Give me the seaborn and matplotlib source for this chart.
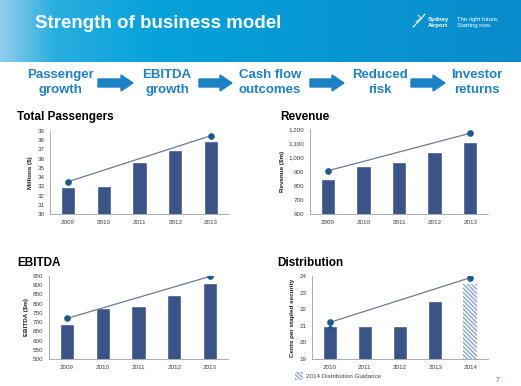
import numpy as np
import pandas as pd
import seaborn as sns
import matplotlib.pyplot as plt
from matplotlib.colors import LinearSegmentedColormap
from matplotlib.patches import Polygon, Rectangle
from matplotlib.ticker import StrMethodFormatter

# --- data ---
years = ["2009", "2010", "2011", "2012", "2013"]
dist_years = ["2010", "2011", "2012", "2013", "2014"]

passengers = [32.9, 33.0, 35.6, 36.9, 37.9]
revenue = [850, 940, 970, 1035, 1110]
ebitda = [690, 775, 790, 848, 910]
distribution = [21.0, 21.0, 21.0, 22.5, 23.5]

# trend lines (first year -> last year)
passengers_trend = [33.5, 38.5]
revenue_trend = [905, 1170]
ebitda_trend = [720, 948]
distribution_trend = [21.2, 23.9]
distribution_extra_dot = 20.85

flow_steps = ["Passenger\ngrowth", "EBITDA\ngrowth", "Cash flow\noutcomes", "Reduced\nrisk", "Investor\nreturns"]

BAR = "#3b5487"
LINE = "#6c7a94"
DOT = "#1c5a8c"
FLOW_BLUE = "#1f80c2"
TICK = "#404040"

sns.set_style("white")
plt.rcParams["font.family"] = ["Liberation Sans", "DejaVu Sans"]

W, H = 521, 386
fig = plt.figure(figsize=(W / 100, H / 100), dpi=100)

# background overlay in pixel coordinates
bg = fig.add_axes([0, 0, 1, 1])
bg.axis("off")

cmap = LinearSegmentedColormap.from_list(
    "hdr", [(0, "#8fcdec"), (0.1, "#2aaee0"), (0.3, "#05a2da"), (1, "#0a8bcb")])
grad = np.linspace(0, 1, 300).reshape(1, -1)
bg.imshow(grad, cmap=cmap, extent=[0, W, 62, 0], aspect="auto", zorder=0)
bg.set_xlim(0, W)
bg.set_ylim(H, 0)

bg.text(35, 24, "Strength of business model", color="white", fontsize=13.5,
        fontweight="bold", va="center", ha="left")
bg.text(428, 19.5, "Sydney", color="white", fontsize=4.3, fontweight="bold", va="center")
bg.text(428, 25.5, "Airport", color="white", fontsize=4.3, fontweight="bold", va="center")
bg.text(457, 19.5, "The right future.", color="white", fontsize=4.2, va="center")
bg.text(457, 25.5, "Starting now.", color="white", fontsize=4.2, va="center")
bg.plot([413, 420, 425], [27, 20, 14], color="white", lw=0.8)
bg.plot([416, 421, 418], [22, 18, 15], color="white", lw=0.6)

# process flow
flow_x = [60, 167, 270, 380, 477]
for label, x in zip(flow_steps, flow_x):
    bg.text(x, 82.5, label, color=FLOW_BLUE, fontsize=9.5, fontweight="bold",
            ha="center", va="center", linespacing=1.3)
for x0, x1 in [(98, 133), (199, 232), (310, 344), (411, 445)]:
    xh = x1 - 12
    pts = [(x0, 79), (xh, 79), (xh, 75), (x1, 83), (xh, 91), (xh, 87), (x0, 87)]
    bg.add_patch(Polygon(pts, closed=True, color="#1b82c5", zorder=2))

bg.text(498, 380, "7", color=FLOW_BLUE, fontsize=5, ha="center", va="center")


def px_axes(left, right, top, bottom):
    return fig.add_axes([left / W, 1 - bottom / H, (right - left) / W, (bottom - top) / H])


def bar_panel(ax, cats, vals, trend, ylim, yticks, ylabel, title, title_xy, fmt=None):
    df = pd.DataFrame({"year": cats, "value": vals})
    sns.barplot(data=df, x="year", y="value", color=BAR, width=0.4, saturation=1, ax=ax)
    tr = pd.DataFrame({"year": [cats[0], cats[-1]], "value": trend})
    sns.lineplot(data=tr, x="year", y="value", color=LINE, lw=0.9, ax=ax,
                 marker="o", markersize=4, markerfacecolor=DOT, markeredgecolor=DOT)
    ax.set_xlim(-0.5, len(cats) - 0.5)
    ax.set_ylim(*ylim)
    ax.set_yticks(yticks)
    if fmt:
        ax.yaxis.set_major_formatter(StrMethodFormatter(fmt))
    ax.set_xlabel("")
    ax.set_ylabel(ylabel, fontsize=4.5, fontweight="bold", color="#202020", labelpad=3)
    ax.tick_params(axis="both", labelsize=4.5, colors=TICK, length=2, width=0.5, pad=2)
    ax.tick_params(axis="x", length=0, pad=4)
    ax.set_facecolor("none")
    for s in ["top", "right"]:
        ax.spines[s].set_visible(False)
    for s in ["left", "bottom"]:
        ax.spines[s].set_color("#a0a0a0")
        ax.spines[s].set_linewidth(0.6)
    fig.text(title_xy[0] / W, 1 - title_xy[1] / H, title, fontsize=8.5,
             fontweight="bold", color="black", ha="left", va="center")
    return ax


ax1 = px_axes(50, 229, 131, 214)
bar_panel(ax1, years, passengers, passengers_trend, (30, 39), range(30, 40),
          "Millions ($)", "Total Passengers", (17, 117))

ax2 = px_axes(310, 488, 129, 214)
bar_panel(ax2, years, revenue, revenue_trend, (600, 1200), range(600, 1201, 100),
          "Revenue ($m)", "Revenue", (280, 117), fmt="{x:,.0f}")

ax3 = px_axes(49, 228, 276, 359)
bar_panel(ax3, years, ebitda, ebitda_trend, (500, 950), range(500, 951, 50),
          "EBITDA ($m)", "EBITDA", (17, 263))

ax4 = px_axes(312, 488, 276, 359)
bar_panel(ax4, dist_years, distribution, distribution_trend, (19, 24), range(19, 25),
          "Cents per stapled security", "Distribution", (277, 263))
guid = ax4.patches[-1]
guid.set_facecolor("white")
guid.set_edgecolor("#8aa6d0")
guid.set_hatch("\\\\\\\\\\\\\\\\")
guid.set_linewidth(0)
ax4.scatter([dist_years[0]], [distribution_extra_dot], color=DOT, s=8, zorder=5)

# legend for guidance bar
bg.add_patch(Rectangle((295, 372), 8, 8, facecolor="white", edgecolor="#8aa6d0",
                       hatch="\\\\\\\\\\\\\\\\", lw=0))
bg.text(306, 376, "2014 Distribution Guidance", fontsize=4.5, color=TICK, va="center")

fig.savefig("out.png", dpi=100)
